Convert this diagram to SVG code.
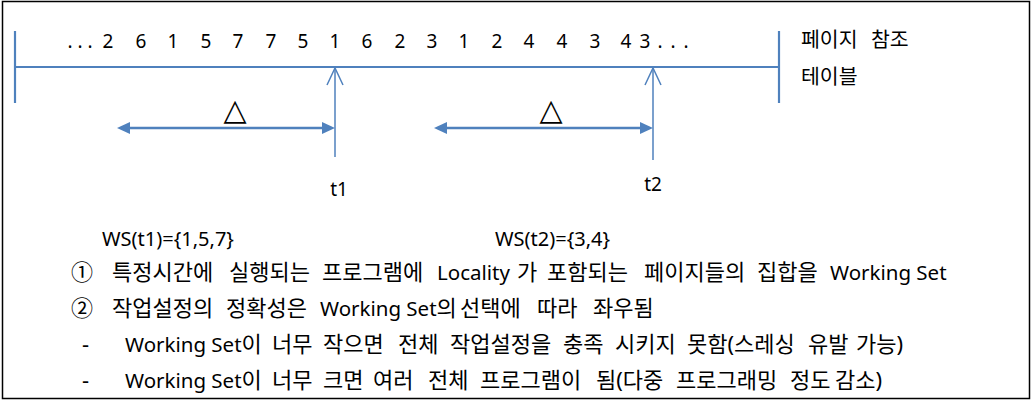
<svg xmlns="http://www.w3.org/2000/svg" width="1033" height="402" viewBox="0 0 1033 402">
<style>
  .blue { stroke: #4F81BD; fill: none; }
  .txt { font-family: "Noto Sans", "Noto Sans CJK KR", sans-serif; fill: #000; }
  .kr { font-family: "Noto Sans", "Noto Sans CJK KR", sans-serif; fill: #000; font-size: 22px; }
  .la { font-size: 20.5px; }
  .tri { font-family: "DejaVu Sans", "Noto Sans CJK KR", sans-serif; fill: #000; font-size: 30px; text-anchor: middle; }
</style>
<defs>
  <marker id="head" viewBox="0 0 13 12" markerUnits="userSpaceOnUse" markerWidth="13" markerHeight="12" refX="9" refY="6" orient="auto-start-reverse">
    <path d="M0,0 L13,6 L0,12 z" fill="#4F81BD"/>
  </marker>
  <marker id="open" viewBox="-1 -1 20 18" markerUnits="userSpaceOnUse" markerWidth="20" markerHeight="18" refX="17" refY="8" orient="auto">
    <path d="M0,0 L17,8 L0,16" fill="none" stroke="#4F81BD" stroke-width="1.5"/>
  </marker>
</defs>
<rect x="2.5" y="1.5" width="1027" height="397" fill="#fff" stroke="#000" stroke-width="1.5"/>

<g id="timeline">
  <line class="blue" x1="15" y1="31" x2="15" y2="103" stroke-width="2.2"/>
  <line class="blue" x1="779" y1="31" x2="779" y2="103" stroke-width="2.2"/>
  <line class="blue" x1="15" y1="67" x2="779" y2="67" stroke-width="2.2"/>
  <text class="txt" font-size="19" text-anchor="middle" y="48" x="70 80 90 108 141 173 206 238 271 303 335 367 400 432 464 497 529 562 595 626 645 660 673 686">...261577516231244343...</text>
</g>

<g id="label-table">
  <text class="kr" style="font-size:20.5px" y="47"><tspan x="801">페이지</tspan><tspan x="871">참조</tspan></text>
  <text class="kr" style="font-size:20.5px" x="801" y="84">테이블</text>
</g>

<g id="window-t1">
  <text class="tri" x="235" y="120">△</text>
  <text class="txt" font-size="19" text-anchor="middle" x="339" y="196">t1</text>
</g>

<g id="window-t2">
  <text class="tri" x="551" y="120">△</text>
  <text class="txt" font-size="19" text-anchor="middle" x="653" y="191">t2</text>
</g>

<g id="connectors">
  <line class="blue" x1="335" y1="157" x2="335" y2="68" stroke-width="1.5" marker-end="url(#open)"/>
  <line class="blue" x1="653" y1="160" x2="653" y2="68" stroke-width="1.5" marker-end="url(#open)"/>
  <line class="blue" x1="121" y1="128" x2="331" y2="128" stroke-width="2.5" marker-start="url(#head)" marker-end="url(#head)"/>
  <line class="blue" x1="438" y1="128" x2="649" y2="128" stroke-width="2.5" marker-start="url(#head)" marker-end="url(#head)"/>
</g>

<g id="ws-sets">
  <text class="txt" font-size="20" x="102" y="246">WS(t1)={1,5,7}</text>
  <text class="txt" font-size="20" x="495" y="246">WS(t2)={3,4}</text>
</g>

<g id="notes">
  <text class="kr" y="280"><tspan x="71">①</tspan><tspan x="112">특정시간에</tspan><tspan x="229">실행되는</tspan><tspan x="322">프로그램에</tspan><tspan class="la" x="437">Locality</tspan><tspan x="517">가</tspan><tspan x="547">포함되는</tspan><tspan x="644">페이지들의</tspan><tspan x="757">집합을</tspan><tspan class="la" x="830">Working Set</tspan></text>
  <text class="kr" y="316"><tspan x="71">②</tspan><tspan x="112">작업설정의</tspan><tspan x="226">정확성은</tspan><tspan class="la" x="320">Working Set</tspan><tspan>의</tspan><tspan x="460">선택에</tspan><tspan x="537">따라</tspan><tspan x="593">좌우됨</tspan></text>
  <text class="kr" y="352"><tspan x="82">-</tspan><tspan class="la" x="125">Working Set</tspan><tspan>이</tspan><tspan x="272">너무</tspan><tspan x="323">작으면</tspan><tspan x="398">전체</tspan><tspan x="450">작업설정을</tspan><tspan x="563">충족</tspan><tspan x="615">시키지</tspan><tspan x="687">못함(스레싱</tspan><tspan x="808">유발</tspan><tspan x="856">가능)</tspan></text>
  <text class="kr" y="388"><tspan x="82">-</tspan><tspan class="la" x="125">Working Set</tspan><tspan>이</tspan><tspan x="272">너무</tspan><tspan x="323">크면</tspan><tspan x="373">여러</tspan><tspan x="428">전체</tspan><tspan x="480">프로그램이</tspan><tspan x="596">됨(다중</tspan><tspan x="676">프로그래밍</tspan><tspan x="790">정도</tspan><tspan x="835">감소)</tspan></text>
</g>
</svg>
